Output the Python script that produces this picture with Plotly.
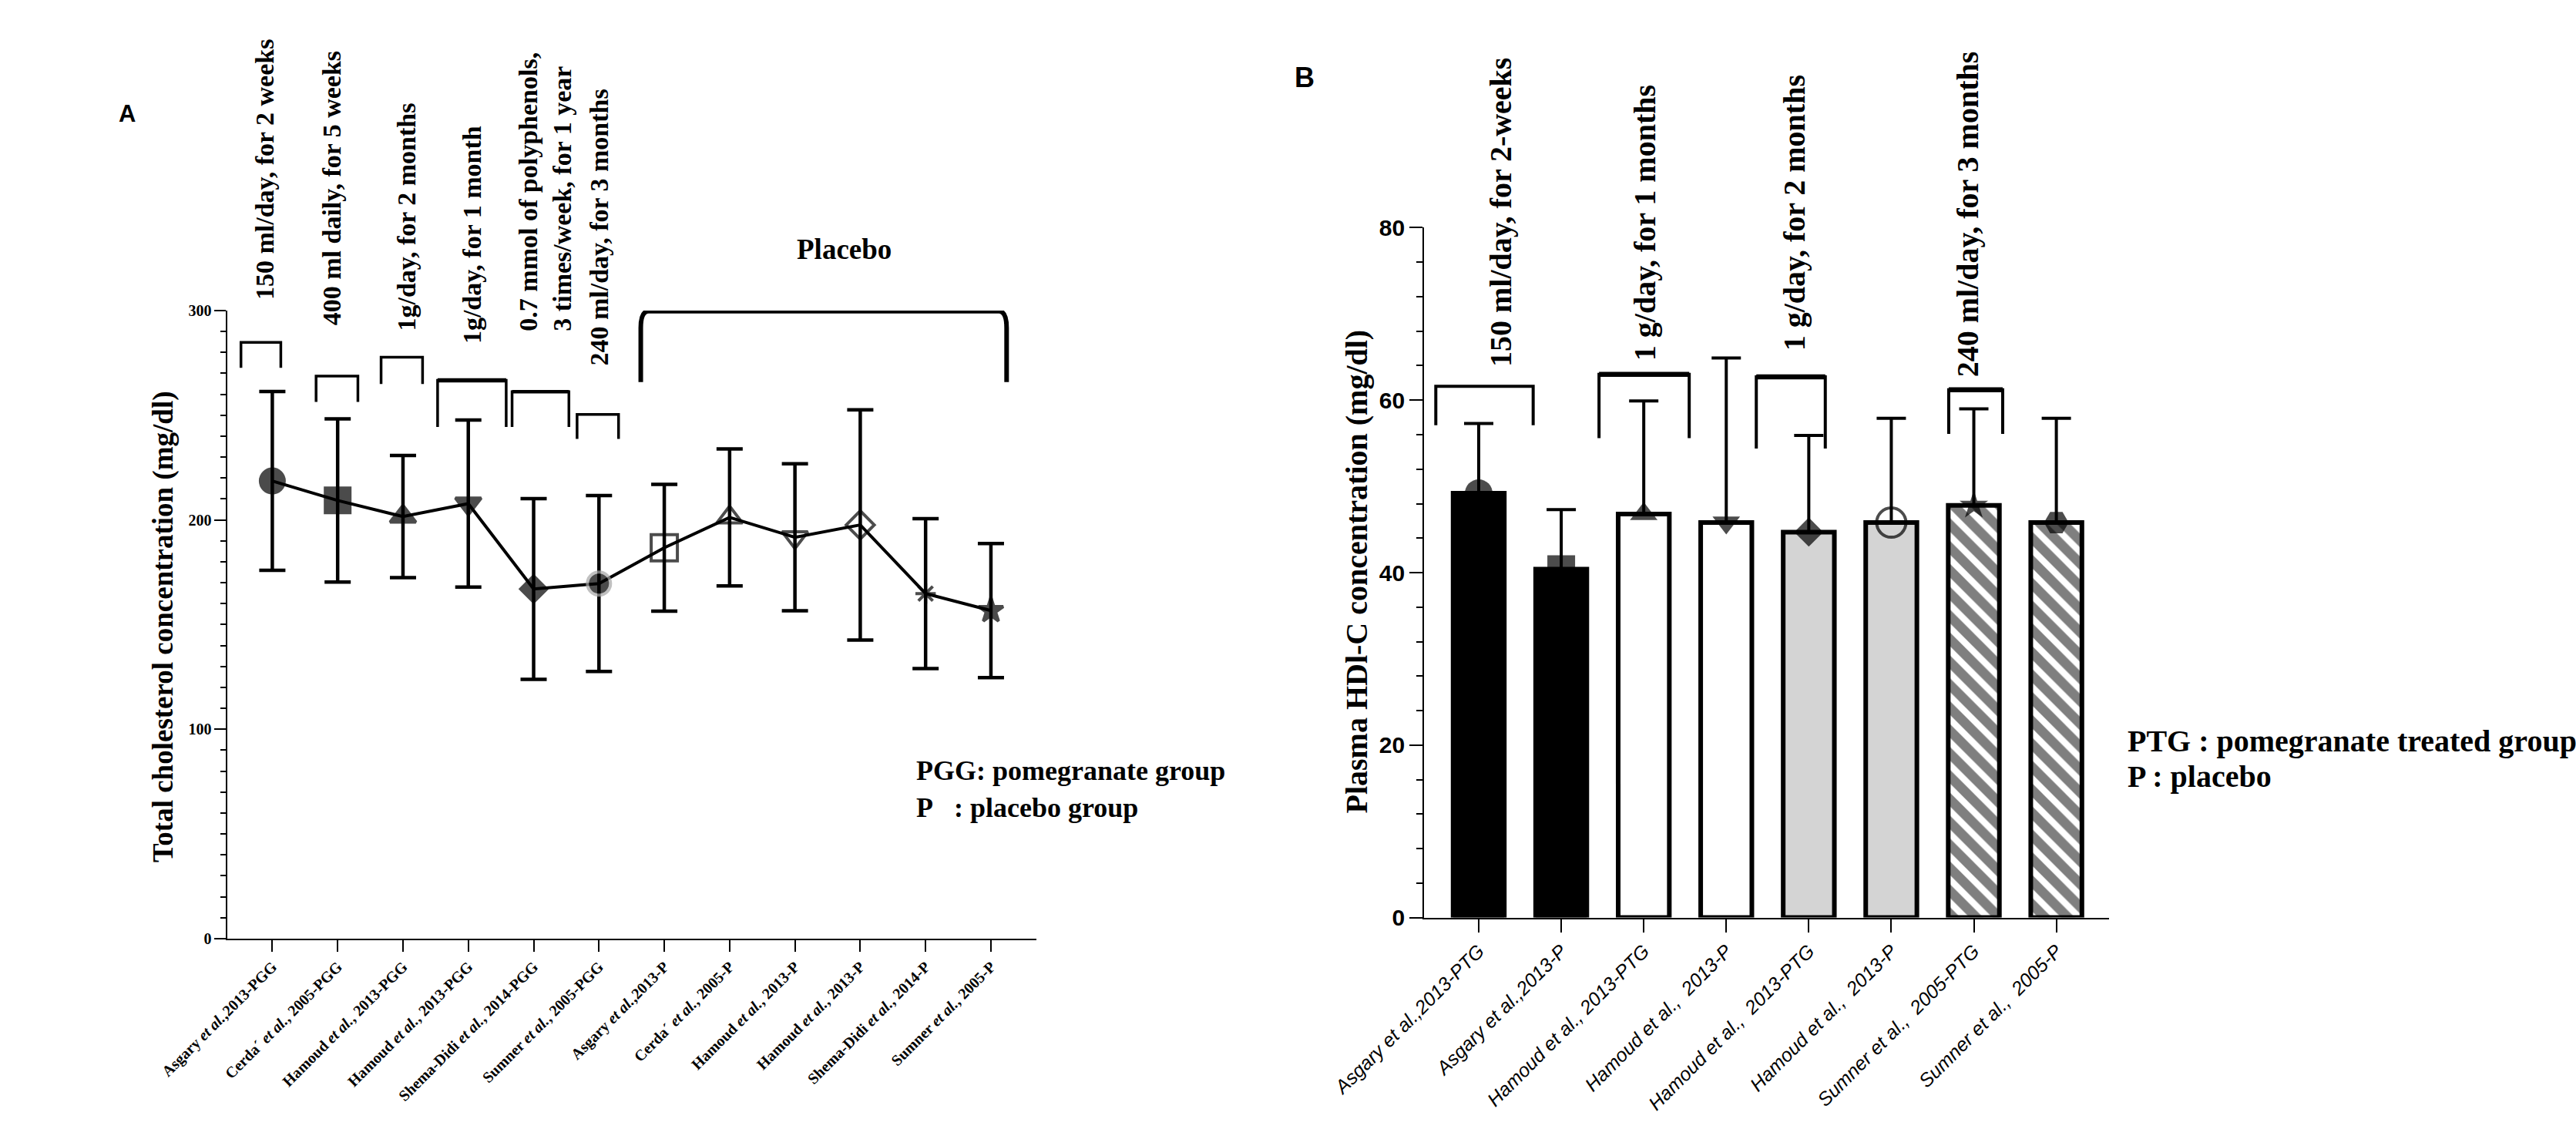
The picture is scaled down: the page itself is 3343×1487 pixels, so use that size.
import plotly.graph_objects as go

W, H = 3343, 1487
SERIF = "Liberation Serif, Times New Roman, serif"
SANS = "Liberation Sans, Arial, sans-serif"

# ---------------- panel A : total cholesterol ----------------
a_labels = [
    "Asgary <i>et al.</i>,2013-PGG",
    "Cerda´ <i>et al.</i>, 2005-PGG",
    "Hamoud <i>et al.</i>, 2013-PGG",
    "Hamoud <i>et al.</i>, 2013-PGG",
    "Shema-Didi <i>et al.</i>, 2014-PGG",
    "Sumner <i>et al.</i>, 2005-PGG",
    "Asgary <i>et al.</i>,2013-P",
    "Cerda´ <i>et al.</i>, 2005-P",
    "Hamoud <i>et al.</i>, 2013-P",
    "Hamoud <i>et al.</i>, 2013-P",
    "Shema-Didi <i>et al.</i>, 2014-P",
    "Sumner <i>et al.</i>, 2005-P",
]
a_mean = [218.6, 209.3, 201.6, 207.8, 167.0, 169.6, 186.7, 201.2, 191.7, 197.6, 164.8, 156.7]
a_sd = [42.7, 39.0, 29.2, 39.9, 43.2, 42.0, 30.3, 32.7, 35.1, 55.0, 35.8, 32.0]
a_notes = [
    "150 ml/day, for 2 weeks",
    "400 ml daily, for 5 weeks",
    "1g/day, for 2 months",
    "1g/day, for 1 month",
    "0.7 mmol of polyphenols,<br>3 times/week, for 1 year",
    "240 ml/day, for 3 months",
]

# ---------------- panel B : HDL-C ----------------
b_labels = [
    "Asgary et al.,2013-PTG",
    "Asgary et al.,2013-P",
    "Hamoud et al., 2013-PTG",
    "Hamoud et al.,  2013-P",
    "Hamoud et al.,  2013-PTG",
    "Hamoud et al.,  2013-P",
    "Sumner et al.,  2005-PTG",
    "Sumner et al.,  2005-P",
]
b_mean = [49.2, 40.4, 46.8, 45.8, 44.7, 45.8, 47.8, 45.8]
b_err = [8.1, 6.9, 13.1, 19.1, 11.2, 12.1, 11.2, 12.1]
b_notes = [
    "150 ml/day, for 2-weeks",
    "1 g/day, for 1 months",
    "1 g/day, for 2 months",
    "240 ml/day, for 3 months",
]

# ---------------- styles / placement ----------------
a_symbols = ["circle", "square", "triangle-up", "triangle-down", "diamond", "circle",
             "square-open", "triangle-up-open", "triangle-down-open", "diamond-open",
             "asterisk-open", "star"]
a_sizes = [31, 32, 29, 29, 26, 30, 34, 29, 29, 28, 22, 24]
a_edge = ["black"] * 5 + ["#a6a6a6"] + ["black"] * 6

b_symbols = ["circle", "square", "triangle-up", "triangle-down", "diamond",
             "circle-open", "star", "hexagon2"]
b_sizes = [36, 36, 31, 31, 29, 38, 28, 32]
b_mline = [0, 0, 0, 0, 0, 4, 0, 0]
b_fill = ["black", "black", "white", "white", "#d4d4d4", "#d4d4d4", "white", "white"]
b_hatched = [False, False, False, False, False, False, True, True]

a_note_x = [-0.125, 0.92, 2.05, 3.05, 4.18, 5.0]
a_note_top = [33, 48, 117, 147, 50, 99]
b_note_x = [0.26, 2.02, 3.82, 5.92]
b_note_top = [57, 93, 80, 48]

# (x0, x1, y_top, y_bottom, leg width, top width)
a_brackets = [
    (-0.48, 0.13, 284.8, 272.7, 3.5, 3.5),
    (0.67, 1.31, 268.7, 256.4, 3.5, 3.5),
    (1.665, 2.30, 277.7, 264.9, 3.5, 3.5),
    (2.53, 3.58, 266.7, 244.4, 3.5, 5.5),
    (3.67, 4.54, 261.2, 244.4, 3.5, 4.5),
    (4.665, 5.30, 250.4, 238.7, 3.5, 3.5),
]
b_brackets = [
    (-0.52, 0.66, 61.6, 57.1, 4, 4),
    (1.458, 2.551, 63.0, 55.6, 4, 6.5),
    (3.364, 4.20, 62.7, 54.4, 4, 6.5),
    (5.696, 6.35, 61.2, 56.1, 4, 6.5),
]


def px_x(x):
    return x / W


def px_y(y):
    return 1 - y / H


def bracket(xr, yr, x0, x1, yt, yb, wl, wt):
    out = [dict(type="path", xref=xr, yref=yr,
                path=f"M {x0},{yb} L {x0},{yt} L {x1},{yt} L {x1},{yb}",
                line=dict(color="black", width=wl))]
    if wt > wl:
        out.append(dict(type="line", xref=xr, yref=yr, x0=x0, x1=x1, y0=yt, y1=yt,
                        line=dict(color="black", width=wt)))
    return out


def label(text, x, y, size, family=SERIF, xanchor="center", angle=0):
    return dict(text=text, x=px_x(x), y=px_y(y), xref="paper", yref="paper",
                xanchor=xanchor, yanchor="middle", textangle=angle, showarrow=False,
                font=dict(family=family, size=size, color="black", weight="bold"))


fig = go.Figure()

fig.add_trace(go.Scatter(
    x=list(range(len(a_mean))), y=a_mean, mode="lines+markers",
    line=dict(color="black", width=4),
    marker=dict(symbol=a_symbols, size=a_sizes, color="black",
                line=dict(color=a_edge, width=4)),
    error_y=dict(type="data", array=a_sd, color="black", thickness=4.5, width=17),
    xaxis="x", yaxis="y", cliponaxis=False,
))

bx = list(range(len(b_mean)))
fig.add_trace(go.Bar(
    x=bx, y=[v if not h else None for v, h in zip(b_mean, b_hatched)], width=0.62,
    marker=dict(color=b_fill, line=dict(color="black", width=6)),
    xaxis="x2", yaxis="y2",
))
fig.add_trace(go.Bar(
    x=bx, y=[v if h else None for v, h in zip(b_mean, b_hatched)], width=0.62,
    marker=dict(color="white", line=dict(color="black", width=6),
                pattern=dict(shape="\\", fgcolor="black", bgcolor="white",
                             size=21, solidity=0.6)),
    xaxis="x2", yaxis="y2",
))
fig.add_trace(go.Scatter(
    x=bx, y=b_mean, mode="markers",
    marker=dict(symbol=b_symbols, size=b_sizes, color="black",
                line=dict(color="black", width=b_mline)),
    error_y=dict(type="data", symmetric=False, array=b_err, arrayminus=[0] * len(b_err),
                 color="black", thickness=4, width=19),
    xaxis="x2", yaxis="y2", cliponaxis=False,
))

shapes = []
for b in a_brackets:
    shapes += bracket("x", "y", *b)
for b in b_brackets:
    shapes += bracket("x2", "y2", *b)
# placebo bracket with rounded corners
px0, px1, pyt, pyb = 5.64, 11.24, 299.7, 265.8
shapes.append(dict(
    type="path", xref="x", yref="y",
    path=(f"M {px0},{pyb} L {px0},{pyt - 8} Q {px0},{pyt} {px0 + 0.12},{pyt} "
          f"L {px1 - 0.12},{pyt} Q {px1},{pyt} {px1},{pyt - 8} L {px1},{pyb}"),
    line=dict(color="black", width=6)))

ann = []
for t, x, top in zip(a_notes, a_note_x, a_note_top):
    ann.append(dict(text=t, x=x, xref="x", y=px_y(top), yref="paper", textangle=-90,
                    xanchor="center", yanchor="top", align="left", showarrow=False,
                    font=dict(family=SERIF, size=34, color="black", weight="bold")))
for t, x, top in zip(b_notes, b_note_x, b_note_top):
    ann.append(dict(text=t, x=x, xref="x2", y=px_y(top), yref="paper", textangle=-90,
                    xanchor="center", yanchor="top", align="left", showarrow=False,
                    font=dict(family=SERIF, size=40, color="black", weight="bold")))

ann += [
    label("Placebo", 1010, 314, 37),
    label("Total cholesterol concentration (mg/dl)", 93, 815, 37, angle=-90),
    label("Plasma HDl-C concentration (mg/dl)", 1700, 741, 40, angle=-90),
    label("PGG: pomegranate group", 1105, 1006, 36, xanchor="left"),
    label("P\u00a0\u00a0\u00a0: placebo group", 1105, 1055, 36, xanchor="left"),
    label("PTG : pomegranate treated group", 2737, 967, 40, xanchor="left"),
    label("P : placebo", 2737, 1014, 40, xanchor="left"),
    label("A", 44, 134, 31, family=SANS),
    label("B", 1630, 85, 36, family=SANS),
]

axis_common = dict(showline=True, linecolor="black", linewidth=2, showgrid=False,
                   zeroline=False, ticks="outside", tickcolor="black", tickwidth=2)

fig.update_layout(
    width=W, height=H, margin=dict(l=0, r=0, t=0, b=0),
    paper_bgcolor="white", plot_bgcolor="white", showlegend=False,
    barmode="overlay",
    xaxis=dict(domain=[px_x(179), px_x(1269)], range=[-0.684, 11.70], anchor="y",
               tickvals=list(range(len(a_labels))), ticktext=a_labels, tickangle=-45,
               ticklen=15,
               tickfont=dict(family=SERIF, size=20, color="black", weight="bold"),
               **axis_common),
    yaxis=dict(domain=[px_y(1229), px_y(395)], range=[0, 300], anchor="x",
               tick0=0, dtick=100, ticklen=15,
               minor=dict(dtick=10, ticks="outside", ticklen=7, tickwidth=2, tickcolor="black"),
               tickfont=dict(family=SERIF, size=20, color="black", weight="bold"),
               **axis_common),
    xaxis2=dict(domain=[px_x(1791), px_x(2714)], range=[-0.662, 7.64], anchor="y2",
                tickvals=bx,
                ticktext=["<i>" + s + "</i>" for s in b_labels], tickangle=-45,
                ticklen=17,
                tickfont=dict(family=SANS, size=25, color="black"),
                **axis_common),
    yaxis2=dict(domain=[px_y(1201), px_y(285)], range=[0, 80], anchor="x2",
                tick0=0, dtick=20, ticklen=17,
                minor=dict(dtick=4, ticks="outside", ticklen=8, tickwidth=2, tickcolor="black"),
                tickfont=dict(family=SANS, size=30, color="black", weight="bold"),
                **axis_common),
    shapes=shapes,
    annotations=ann,
)

fig.write_html("out.html", config={"displayModeBar": False},
               post_script="document.body.style.margin='0';")
